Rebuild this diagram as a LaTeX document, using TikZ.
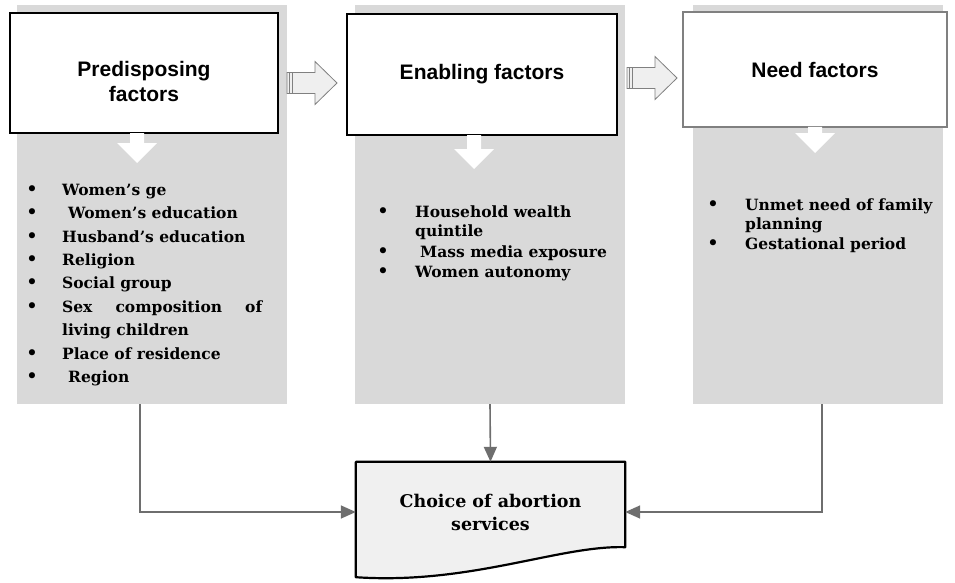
\documentclass[tikz,border=0pt]{standalone}
\usepackage{fontspec}
\setmainfont{DejaVu Serif}
\newfontfamily\headfont{Liberation Sans}
\usetikzlibrary{arrows.meta,backgrounds}

\definecolor{colgray}{HTML}{D9D9D9}
\definecolor{docgray}{HTML}{F0F0F0}
\definecolor{linkgray}{HTML}{6E6E6E}
\definecolor{hollowgray}{HTML}{EFEFEF}

\tikzset{
  column/.style={fill=colgray, inner sep=0pt},
  headbox/.style={draw, fill=white, line width=1.6pt, inner sep=0pt, align=center,
    font=\headfont\bfseries\fontsize{21}{25}\selectfont},
  item/.style={anchor=base west, inner sep=0pt, font=\bfseries\fontsize{15.5}{18}\selectfont},
  dot/.style={anchor=base, inner sep=0pt, font=\fontsize{21}{18}\selectfont},
  link/.style={linkgray, line width=1.6pt, -{Triangle[length=15pt,width=13pt]}},
  hollow/.style={draw=gray, fill=hollowgray, line width=0.8pt}
}

\begin{document}
\begin{tikzpicture}[x=1pt,y=-1pt]
\useasboundingbox (0,0) rectangle (955,583);

% gray columns
\node [column, minimum width=270pt, minimum height=399pt] (col1) at (152,204.5) {};
\node [column, minimum width=270pt, minimum height=399pt] (col2) at (490,204.5) {};
\node [column, minimum width=250pt, minimum height=399pt] (col3) at (818,204.5) {};

% heading boxes
\node [headbox, minimum width=268pt, minimum height=120pt] (pre) at (144,73) {\rule{0pt}{33pt}Predisposing\\factors};
\node [headbox, minimum width=270pt, minimum height=121pt] (ena) at (482,74.5) {Enabling factors};
\node [headbox, draw=gray, minimum width=264pt, minimum height=115pt] (need) at (815,69.5) {Need factors};

% white arrows down
\foreach \x/\y/\h in {137/133/30, 474/135/34, 815/127/26}
  \fill [white] (\x-7,\y) -- (\x-7,\y+\h-20) -- (\x-20,\y+\h-20) -- (\x,\y+\h)
    -- (\x+20,\y+\h-20) -- (\x+7,\y+\h-20) -- (\x+7,\y) -- cycle;

% hollow arrows between columns
\foreach \x/\y in {287/83, 627/78} {
  \draw [hollow] (\x,\y-10.5) -- (\x+28,\y-10.5) -- (\x+28,\y-21.5) -- (\x+50,\y)
    -- (\x+28,\y+21.5) -- (\x+28,\y+10.5) -- (\x,\y+10.5) -- cycle;
  \draw [gray, line width=0.8pt] (\x+2.5,\y-10.5) -- (\x+2.5,\y+10.5);
  \draw [gray, line width=0.8pt] (\x+5,\y-10.5) -- (\x+5,\y+10.5);
}

% predisposing factors
\foreach \y in {195,218,242,265,288,312,359,382}
  \node [dot] at (32,\y+1) {\textbullet};
\foreach \x/\y/\t in {62/195/Women’s ge, 68/218/Women’s education, 62/242/Husband’s education,
    62/265/Religion, 62/288/Social group, 62/312/\makebox[200pt][s]{Sex composition of},
    62/335/living children, 62/359/Place of residence, 68/382/Region}
  \node [item] at (\x,\y) {\t};

% enabling factors
\foreach \y in {217,257,277}
  \node [dot] at (383,\y+1) {\textbullet};
\foreach \x/\y/\t in {415/217/Household wealth, 415/236/quintile, 420/257/Mass media exposure,
    415/277/Women autonomy}
  \node [item] at (\x,\y) {\t};

% need factors
\foreach \y in {210,249}
  \node [dot] at (713,\y+1) {\textbullet};
\foreach \x/\y/\t in {745/210/Unmet need of family, 745/229/planning, 745/249/Gestational period}
  \node [item] at (\x,\y) {\t};

% outcome
\node [inner sep=0pt, minimum width=269pt, minimum height=100pt, align=center,
  font=\bfseries\fontsize{17.5}{23}\selectfont] (choice) at (490.5,512) {Choice of abortion\\services};
\begin{scope}[on background layer]
\draw [line width=2.2pt, fill=docgray, line join=round] (choice.north west) -- (choice.north east)
  -- ([yshift=15pt]choice.south east) .. controls (560,545) and (470,585) .. ([yshift=-15pt]choice.south west)
  -- cycle;
\end{scope}

\draw [link] ([xshift=-12pt]col1.south) |- (choice.west);
\draw [link] (col2.south) -- (choice.north);
\draw [link] ([xshift=4pt]col3.south) |- (choice.east);
\end{tikzpicture}
\end{document}
